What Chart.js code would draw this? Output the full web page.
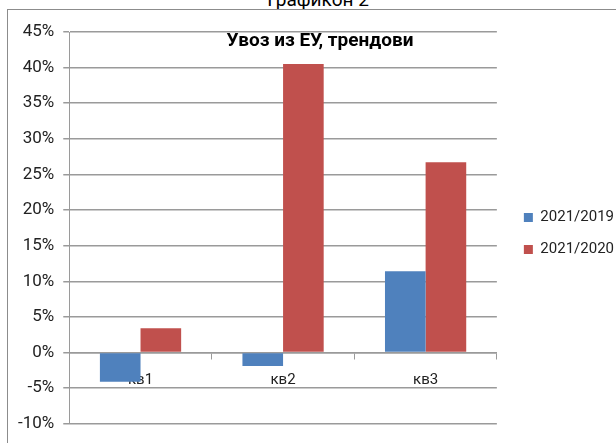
<!DOCTYPE html>
<html>
<head>
<meta charset="utf-8">
<script src="https://cdn.jsdelivr.net/npm/chart.js@4.4.1/dist/chart.umd.min.js"></script>
<style>
    body { margin: 0; background: #fff; overflow: hidden; }
    #wrap { position: relative; width: 616px; height: 443px; overflow: hidden; }
    #frame { position: absolute; left: 7px; top: 9px; width: 700px; height: 500px;
             border-left: 1.5px solid #8c8c8c; border-top: 1.5px solid #8c8c8c; }
    #caption { position: absolute; left: 218px; width: 200px; top: -10px; text-align: center;
               font: 19px Roboto, sans-serif; line-height: 1; color: #000; }
    #title { position: absolute; left: 170px; width: 300px; top: 30px; text-align: center;
             font: bold 19px Roboto, sans-serif; line-height: 1.1; color: #000; white-space: nowrap; }
    canvas { position: absolute; left: 0; top: 0; }
</style>
</head>
<body>
<div id="wrap">
    <div id="caption">Графикон 2</div>
    <div id="frame"></div>
    <canvas id="myChart" width="616" height="443"></canvas>
    <div id="title">Увоз из ЕУ, трендови</div>
</div>
<script>
//Data (percent)
let categories = ['кв1', 'кв2', 'кв3'];
let series2019 = [-4.1, -1.9, 11.4];
let series2020 = [3.4, 40.5, 26.7];
let yTicks = [45, 40, 35, 30, 25, 20, 15, 10, 5, 0, -5, -10];

let fontName = 'Roboto, sans-serif';
let gridGray = '#9a9a9a';

//push the legend a bit away from the plot, like in Excel
let legendShift = {
    id: 'legendShift',
    afterLayout: function (chart) {
        chart.legend.left += 10;
        chart.legend.right += 10;
    }
};

let ctx = document.getElementById('myChart').getContext('2d');

let dataChart = new Chart(ctx, {
    type: 'bar',
    data: {
        labels: categories,
        datasets: [{
            label: '2021/2019',
            data: series2019,
            backgroundColor: '#4f81bd',
            categoryPercentage: 0.57,
            barPercentage: 1
        }, {
            label: '2021/2020',
            data: series2020,
            backgroundColor: '#c0504d',
            categoryPercentage: 0.57,
            barPercentage: 1
        }]
    },
    options: {
        responsive: false,
        animation: false,
        layout: {
            padding: { left: 9, top: 32, right: 2, bottom: 8 }
        },
        plugins: {
            legend: {
                position: 'right',
                labels: {
                    color: '#222',
                    boxWidth: 9,
                    boxHeight: 9,
                    padding: 17,
                    font: { family: fontName, size: 15 }
                }
            },
            tooltip: { enabled: false }
        },
        scales: {
            x: {
                position: { y: 0 },
                z: 1,
                border: { display: true, color: gridGray, width: 1.5 },
                grid: { drawOnChartArea: false, offset: true, tickLength: 6, color: gridGray },
                ticks: { color: '#222', padding: 13, font: { family: fontName, size: 15 } }
            },
            y: {
                min: -10,
                max: 45,
                afterBuildTicks: function (axis) {
                    axis.ticks = yTicks.map(v => ({ value: v }));
                },
                border: { display: true, color: gridGray, width: 1 },
                grid: { color: gridGray, lineWidth: 1.5, tickLength: 6 },
                ticks: {
                    color: '#222',
                    padding: 9,
                    font: { family: fontName, size: 17 },
                    callback: v => v + '%'
                }
            }
        }
    },
    plugins: [legendShift]
});
</script>
</body>
</html>
